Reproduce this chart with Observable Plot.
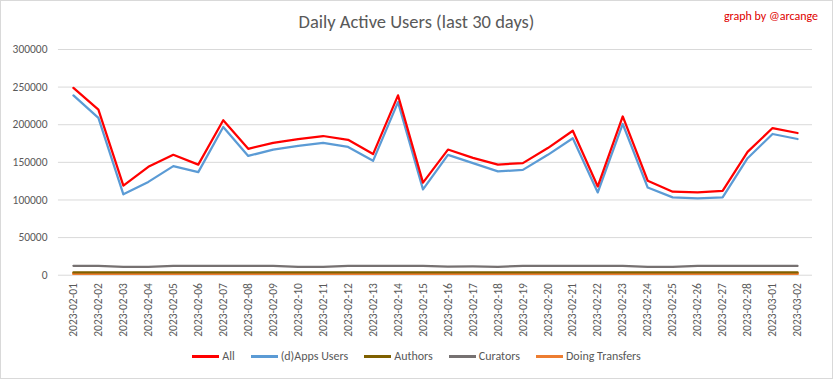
<!DOCTYPE html>
<html>
<head>
<meta charset="utf-8">
<script src="https://cdn.jsdelivr.net/npm/d3@7"></script>
<script src="https://cdn.jsdelivr.net/npm/@observablehq/plot@0.6"></script>
<style>
  html, body { margin: 0; padding: 0; background: #fff; }
  #chart { position: relative; width: 833px; height: 379px; box-sizing: border-box; border: 1px solid #d9d9d9; background: #fff; font-family: Carlito, "Liberation Sans Narrow", "Open Sans", sans-serif; color: #595959; overflow: hidden; }
  #title { position: absolute; left: 0; top: 9px; width: 100%; text-align: center; font-size: 18.5px; color: #595959; }
  #credit { position: absolute; right: 14px; top: 8px; font-size: 12px; color: #e00000; }
  #plot { position: absolute; left: -1px; top: 39px; }
  #legend { position: absolute; left: 0; top: 348px; width: 100%; display: flex; justify-content: center; gap: 16px; font-size: 12px; color: #595959; }
  .item { display: flex; align-items: center; gap: 3px; }
  .swatch { width: 27px; height: 3px; display: inline-block; }
</style>
</head>
<body>
<div id="chart">
  <div id="title">Daily Active Users (last 30 days)</div>
  <div id="credit">graph by @arcange</div>
  <div id="plot"></div>
  <div id="legend"></div>
</div>
<script>
const dates = ["2023-02-01","2023-02-02","2023-02-03","2023-02-04","2023-02-05","2023-02-06","2023-02-07","2023-02-08","2023-02-09","2023-02-10","2023-02-11","2023-02-12","2023-02-13","2023-02-14","2023-02-15","2023-02-16","2023-02-17","2023-02-18","2023-02-19","2023-02-20","2023-02-21","2023-02-22","2023-02-23","2023-02-24","2023-02-25","2023-02-26","2023-02-27","2023-02-28","2023-03-01","2023-03-02"];
const allUsers = [249000,220000,119000,144000,160000,147000,206000,168000,176000,181000,185000,180000,161000,239000,123000,167000,156000,147000,149000,169000,192000,118000,211000,125500,111000,110000,112000,164000,195600,189000];
const appsUsers = [239000,209000,107500,124000,145000,137000,197000,158500,167000,172000,176000,170500,152000,230000,114000,160000,149000,138000,140000,160000,182000,110000,201000,116500,103500,102000,103500,155500,187700,181000];
const authors = [3800,3800,3700,3700,3800,3800,3800,3800,3800,3700,3700,3800,3800,3800,3800,3700,3700,3700,3800,3800,3800,3800,3800,3700,3700,3800,3800,3800,3800,3800];
const curators = [12500,12300,11200,11200,12300,12300,12300,12300,12300,11200,11200,12300,12300,12300,12300,11300,11600,11200,12300,12300,12300,12300,12300,11200,11200,12300,12300,12300,12300,12300];
const transfers = [2200,2200,2100,2100,2200,2200,2200,2200,2200,2100,2100,2200,2200,2200,2200,2100,2100,2100,2200,2200,2200,2200,2200,2100,2100,2200,2200,2200,2200,2200];
const yTicks = [0,50000,100000,150000,200000,250000,300000];

const seriesNames = ["All","(d)Apps Users","Authors","Curators","Doing Transfers"];
const seriesColors = ["#ff0000","#5b9bd5","#7f6000","#767171","#ed7d31"];
const seriesValues = [allUsers, appsUsers, authors, curators, transfers];

const rows = [];
seriesNames.forEach((name, s) => {
  dates.forEach((d, i) => rows.push({date: d, value: seriesValues[s][i], series: name}));
});
// draw order: bottom series first
const drawOrder = ["Doing Transfers","Authors","Curators","(d)Apps Users","All"];

const chart = Plot.plot({
  width: 833,
  height: 300,
  marginTop: 9,
  marginLeft: 58,
  marginRight: 20,
  marginBottom: 65,
  style: {fontFamily: 'Carlito, "Liberation Sans Narrow", "Open Sans", sans-serif', fontSize: "11.5px", color: "#595959", background: "transparent"},
  x: {type: "point", domain: dates, padding: 0.5, label: null},
  y: {domain: [0, 300000], label: null},
  color: {domain: seriesNames, range: seriesColors},
  marks: [
    Plot.ruleY(yTicks, {stroke: "#d9d9d9", strokeWidth: 1}),
    Plot.axisY({ticks: yTicks, tickSize: 0, tickPadding: 11, tickFormat: d3.format("d"), fill: "#595959", label: null}),
    Plot.axisX({tickSize: 0, tickPadding: 8, tickRotate: -90, fill: "#595959", label: null}),
    ...drawOrder.map(name => Plot.line(rows.filter(r => r.series === name), {
      x: "date", y: "value", stroke: seriesColors[seriesNames.indexOf(name)],
      strokeWidth: name === "Doing Transfers" ? 3 : 2.25, strokeLinejoin: "round", strokeLinecap: "round"
    }))
  ]
});
document.getElementById("plot").appendChild(chart);

const legend = document.getElementById("legend");
seriesNames.forEach((name, i) => {
  const it = document.createElement("div");
  it.className = "item";
  const sw = document.createElement("span");
  sw.className = "swatch";
  sw.style.background = seriesColors[i];
  const tx = document.createElement("span");
  tx.textContent = name;
  it.appendChild(sw); it.appendChild(tx);
  legend.appendChild(it);
});
</script>
</body>
</html>
